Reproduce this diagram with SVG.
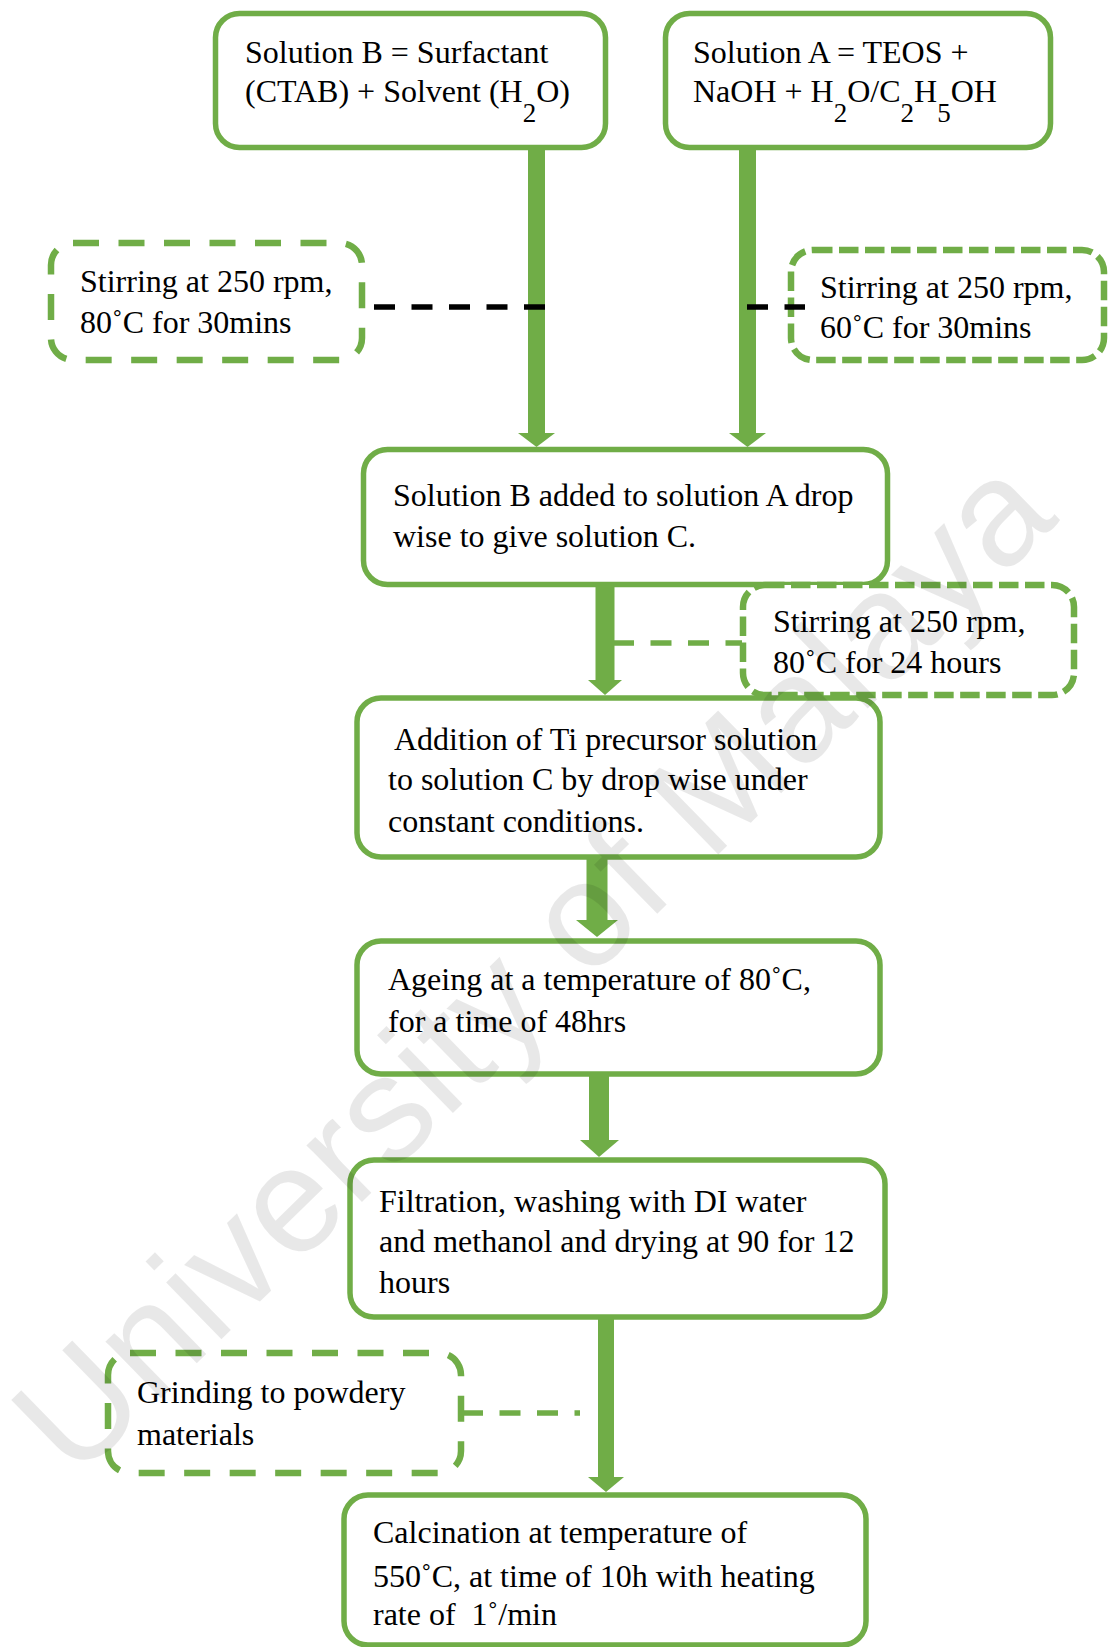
<svg xmlns="http://www.w3.org/2000/svg" width="1108" height="1647" viewBox="0 0 1108 1647">
  <style>
    .box { fill: #fff; stroke: #70AD47; stroke-width: 5.5; }
    .dbox { fill: #fff; stroke: #70AD47; stroke-width: 6.5; stroke-dasharray: 26 19.5; }
    .dbox2 { fill: #fff; stroke: #70AD47; stroke-width: 6.5; stroke-dasharray: 19.5 6.5; }
    .txt { font-family: "Liberation Serif", "Times New Roman", serif; font-size: 32px; fill: #000; }
    .sub { font-size: 27px; }
    .flow { stroke: #70AD47; fill: none; }
    .head { fill: #70AD47; }
    .blk { stroke: #000; stroke-width: 5.5; stroke-dasharray: 21 16.5; fill: none; }
    .gdash { stroke: #70AD47; stroke-width: 5.5; stroke-dasharray: 21 16.5; fill: none; }
    .mark { font-family: "Liberation Sans", Arial, sans-serif; font-size: 150px; fill: #000; fill-opacity: 0.09; }
  </style>
  <rect width="1108" height="1647" fill="#fff"/>

  <!-- solution B -->
  <g id="solution-b">
    <rect class="box" x="215.5" y="13.5" width="390" height="134" rx="24"/>
    <text class="txt" x="245" y="63">Solution B = Surfactant</text>
    <text class="txt" x="245" y="102">(CTAB) + Solvent (H<tspan class="sub" dy="20">2</tspan><tspan dy="-20">O)</tspan></text>
  </g>

  <!-- solution A -->
  <g id="solution-a">
    <rect class="box" x="665.5" y="13.5" width="385" height="134" rx="24"/>
    <text class="txt" x="693" y="63">Solution A = TEOS +</text>
    <text class="txt" x="693" y="102">NaOH + H<tspan class="sub" dy="20">2</tspan><tspan dy="-20">O/C</tspan><tspan class="sub" dy="20">2</tspan><tspan dy="-20">H</tspan><tspan class="sub" dy="20">5</tspan><tspan dy="-20">OH</tspan></text>
  </g>

  <!-- stirring, solution B -->
  <g id="stir-b">
    <rect class="dbox" x="51" y="243" width="311" height="117" rx="22"/>
    <text class="txt" x="80" y="292">Stirring at 250 rpm,</text>
    <text class="txt" x="80" y="333">80˚C for 30mins</text>
  </g>

  <!-- stirring, solution A -->
  <g id="stir-a">
    <rect class="dbox2" x="791" y="250" width="313" height="110" rx="22"/>
    <text class="txt" x="820" y="298">Stirring at 250 rpm,</text>
    <text class="txt" x="820" y="338">60˚C for 30mins</text>
  </g>

  <!-- mixing -->
  <g id="solution-c">
    <rect class="box" x="363.5" y="449.5" width="524" height="135" rx="24"/>
    <text class="txt" x="393" y="506">Solution B added to solution A drop</text>
    <text class="txt" x="393" y="547">wise to give solution C.</text>
  </g>

  <!-- stirring, solution C -->
  <g id="stir-c">
    <rect class="dbox2" x="743" y="585" width="331" height="110" rx="22"/>
    <text class="txt" x="773" y="632">Stirring at 250 rpm,</text>
    <text class="txt" x="773" y="673">80˚C for 24 hours</text>
  </g>

  <!-- Ti precursor -->
  <g id="ti-addition">
    <rect class="box" x="357" y="698" width="523" height="159" rx="24"/>
    <text class="txt" x="394" y="750">Addition of Ti precursor solution</text>
    <text class="txt" x="388" y="790">to solution C by drop wise under</text>
    <text class="txt" x="388" y="832">constant conditions.</text>
  </g>

  <!-- ageing -->
  <g id="ageing">
    <rect class="box" x="357" y="941" width="523" height="133" rx="24"/>
    <text class="txt" x="388" y="990">Ageing at a temperature of 80˚C,</text>
    <text class="txt" x="388" y="1032">for a time of 48hrs</text>
  </g>

  <!-- filtration -->
  <g id="filtration">
    <rect class="box" x="350" y="1160" width="535" height="157" rx="24"/>
    <text class="txt" x="379" y="1212">Filtration, washing with DI water</text>
    <text class="txt" x="379" y="1252">and methanol and drying at 90 for 12</text>
    <text class="txt" x="379" y="1293">hours</text>
  </g>

  <!-- grinding -->
  <g id="grinding">
    <rect class="dbox" x="108" y="1353" width="353" height="120" rx="22"/>
    <text class="txt" x="137" y="1403">Grinding to powdery</text>
    <text class="txt" x="137" y="1445">materials</text>
  </g>

  <!-- calcination -->
  <g id="calcination">
    <rect class="box" x="344" y="1495" width="522" height="150" rx="24"/>
    <text class="txt" x="373" y="1543">Calcination at temperature of</text>
    <text class="txt" x="373" y="1587">550˚C, at time of 10h with heating</text>
    <text class="txt" x="373" y="1625" xml:space="preserve">rate of  1˚/min</text>
  </g>

  <!-- connectors -->
  <g id="connectors">
    <line class="flow" x1="536.5" y1="148" x2="536.5" y2="434" stroke-width="17"/>
    <polygon class="head" points="518,433 555,433 536.5,447"/>
    <line class="flow" x1="747.5" y1="148" x2="747.5" y2="434" stroke-width="17"/>
    <polygon class="head" points="729,433 766,433 747.5,447"/>
    <path class="blk" d="M374 307 H545"/>
    <path class="blk" d="M747 307 H805"/>

    <line class="flow" x1="605" y1="586" x2="605" y2="681" stroke-width="19"/>
    <polygon class="head" points="588,680 622,680 605,695"/>
    <path class="gdash" d="M613 643 H742"/>

    <line class="flow" x1="597" y1="858" x2="597" y2="921" stroke-width="21"/>
    <polygon class="head" points="576,920 618,920 597,937"/>

    <line class="flow" x1="599" y1="1075" x2="599" y2="1141" stroke-width="20"/>
    <polygon class="head" points="580,1140 619,1140 599,1157"/>

    <line class="flow" x1="606" y1="1318" x2="606" y2="1478" stroke-width="16"/>
    <polygon class="head" points="588,1477 624,1477 606,1492"/>
    <path class="gdash" d="M462 1413 H580"/>
  </g>

  <!-- watermark -->
  <text class="mark" x="0" y="0" transform="translate(75 1482) rotate(-44.3)" textLength="1377" lengthAdjust="spacing">University of Malaya</text>
</svg>
